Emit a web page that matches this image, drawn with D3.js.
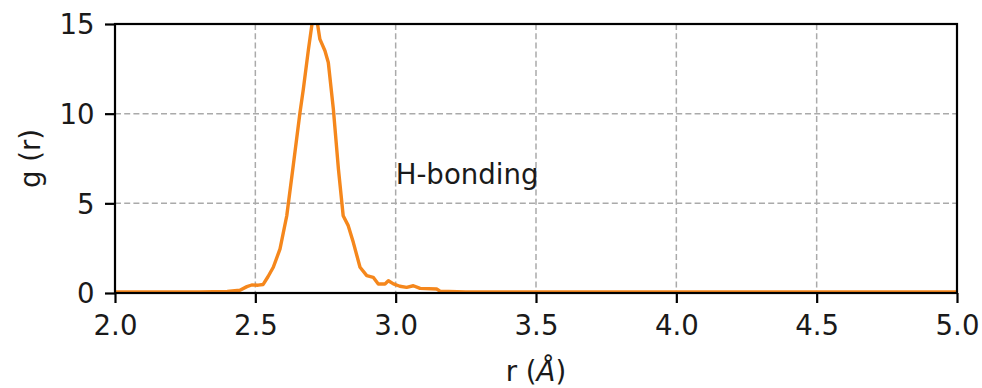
<!DOCTYPE html>
<html>
<head>
<meta charset="utf-8">
<script src="https://cdn.jsdelivr.net/npm/d3@7"></script>
<style>
  html, body { margin: 0; padding: 0; background: #fff; }
  svg { display: block; }
  text { font-family: "DejaVu Sans", sans-serif; fill: #1a1a1a; }
</style>
</head>
<body>
<svg id="chart" width="982" height="388"></svg>
<script>
// Radial distribution function g(r) for the H-bonded pair
const rValues = [2.0, 2.30, 2.40, 2.445, 2.47, 2.487, 2.51, 2.528, 2.545, 2.564, 2.588, 2.612,
  2.635, 2.659, 2.671, 2.689, 2.706, 2.718, 2.730, 2.748, 2.760, 2.778, 2.796, 2.813, 2.831,
  2.849, 2.873, 2.897, 2.920, 2.938, 2.962, 2.974, 2.992, 3.015, 3.039, 3.063, 3.087, 3.146,
  3.158, 3.25, 5.0];
const gValues = [0, 0, 0.03, 0.1, 0.3, 0.39, 0.38, 0.42, 0.85, 1.38, 2.4, 4.25,
  7.04, 10.0, 11.3, 13.5, 15.4, 15.3, 14.1, 13.45, 12.8, 10.2, 6.86, 4.25, 3.7,
  2.77, 1.38, 0.91, 0.82, 0.45, 0.45, 0.63, 0.45, 0.32, 0.26, 0.35, 0.2, 0.17,
  0.05, 0, 0];
const xTicks = [2.0, 2.5, 3.0, 3.5, 4.0, 4.5, 5.0];
const yTicks = [0, 5, 10, 15];
const annotation = { r: 3.0, g: 6.1, text: "H-bonding" };

const svg = d3.select("#chart");
const plot = { left: 115, right: 957, top: 24, bottom: 293 };
const fontSize = 27.6;

const x = d3.scaleLinear().domain([2.0, 5.0]).range([plot.left, plot.right]);
const y = d3.scaleLinear().domain([0, 15]).range([plot.bottom, plot.top]);

svg.append("defs").append("clipPath").attr("id", "plot-clip")
  .append("rect")
  .attr("x", plot.left).attr("y", plot.top)
  .attr("width", plot.right - plot.left).attr("height", plot.bottom - plot.top);

// dashed grid
const grid = svg.append("g").attr("stroke", "#aaaaaa").attr("stroke-width", 1.5)
  .attr("stroke-dasharray", "6,3.2");
grid.selectAll("line.vx").data(xTicks).join("line")
  .attr("x1", d => x(d)).attr("x2", d => x(d))
  .attr("y1", plot.top).attr("y2", plot.bottom);
grid.selectAll("line.hy").data(yTicks).join("line")
  .attr("x1", plot.left).attr("x2", plot.right)
  .attr("y1", d => y(d)).attr("y2", d => y(d));

// g(r) curve
const pts = rValues.map((r, i) => [r, gValues[i]]);
svg.append("path")
  .datum(pts)
  .attr("clip-path", "url(#plot-clip)")
  .attr("fill", "none")
  .attr("stroke", "#f5871c")
  .attr("stroke-width", 3.4)
  .attr("stroke-linejoin", "round")
  .attr("d", d3.line().x(d => x(d[0])).y(d => y(d[1]) - 1));

// axes
const xAxis = d3.axisBottom(x).tickValues(xTicks).tickFormat(d3.format(".1f"))
  .tickSize(10).tickPadding(8);
const yAxis = d3.axisLeft(y).tickValues(yTicks).tickFormat(d3.format("d"))
  .tickSize(10).tickPadding(10);

const gx = svg.append("g").attr("transform", `translate(0,${plot.bottom})`).call(xAxis);
const gy = svg.append("g").attr("transform", `translate(${plot.left},0)`).call(yAxis);
[gx, gy].forEach(g => {
  g.select(".domain").remove();
  g.selectAll(".tick line").attr("stroke", "#000").attr("stroke-width", 2.2);
  g.selectAll(".tick text").attr("font-size", fontSize)
    .attr("font-family", "DejaVu Sans, sans-serif").attr("fill", "#1a1a1a");
});
gx.selectAll(".tick text").attr("dy", null).attr("y", 42);
gy.selectAll(".tick text").attr("dy", "0.36em").attr("x", -20.5);

// frame
svg.append("rect")
  .attr("x", plot.left).attr("y", plot.top)
  .attr("width", plot.right - plot.left).attr("height", plot.bottom - plot.top)
  .attr("fill", "none").attr("stroke", "#000").attr("stroke-width", 2.2);

// annotation
svg.append("text")
  .attr("x", x(annotation.r)).attr("y", y(annotation.g))
  .attr("font-size", fontSize)
  .text(annotation.text);

// axis titles
const xl = svg.append("text")
  .attr("x", (plot.left + plot.right) / 2).attr("y", 381)
  .attr("text-anchor", "middle").attr("font-size", fontSize);
xl.append("tspan").text("r (");
xl.append("tspan").attr("font-style", "italic").text("Å");
xl.append("tspan").text(")");

svg.append("text")
  .attr("transform", `translate(40,${(plot.top + plot.bottom) / 2}) rotate(-90)`)
  .attr("text-anchor", "middle").attr("font-size", fontSize)
  .text("g (r)");
</script>
</body>
</html>
